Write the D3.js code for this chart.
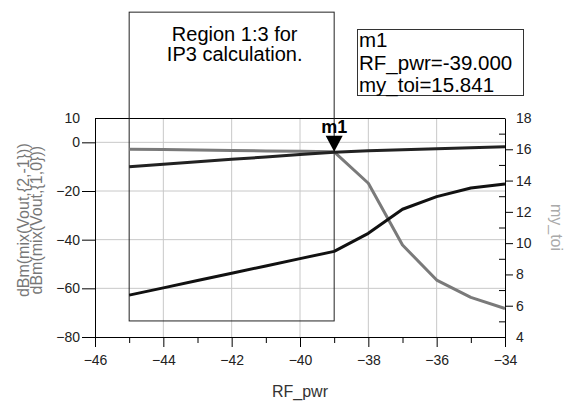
<!DOCTYPE html>
<html>
<head>
<meta charset="utf-8">
<script src="https://cdn.jsdelivr.net/npm/d3@7"></script>
<style>
  body { margin: 0; background: #fff; }
  svg { display: block; font-family: "Liberation Sans", Arial, sans-serif; }
</style>
</head>
<body>
<svg id="chart" width="566" height="401"></svg>
<script>
// data
const rfPwr = [-45, -44, -43, -42, -41, -40, -39, -38, -37, -36, -35, -34];
const fund = [-10, -9, -8, -7, -6, -5, -4.1, -3.5, -3.0, -2.6, -2.2, -1.8];   // dBm(mix(Vout,{1,0}))
const im3 = [-62.8, -59.8, -56.8, -53.8, -50.8, -47.8, -44.8, -37.4, -27.5, -22.3, -18.8, -17.1]; // dBm(mix(Vout,{2,-1}))
const myToi = [16.0, 15.98, 15.95, 15.92, 15.89, 15.87, 15.841, 13.83, 9.88, 7.64, 6.53, 5.82];

const xTicks = [-46, -44, -42, -40, -38, -36, -34];
const xMinor = [-45, -43, -41, -39, -37, -35];
const leftTicks = [10, 0, -20, -40, -60, -80];
const rightTicks = [18, 16, 14, 12, 10, 8, 6, 4];
const rightMinor = [17, 15, 13, 11, 9, 7, 5];

const marker = {name: 'm1', x: -39, y: 15.841};
const regionX = [-45, -39];
const regionY = [53.5, -73.4];   // in left-axis units
const regionText = ['Region 1:3 for', 'IP3 calculation.'];

const svg = d3.select('#chart'),
    plot = {left: 95, right: 505, top: 118, bottom: 337};

const x = d3.scaleLinear().domain([-46, -34]).range([plot.left, plot.right]);
const yL = d3.scaleLinear().domain([-80, 10]).range([plot.bottom, plot.top]);
const yR = d3.scaleLinear().domain([4, 18]).range([plot.bottom, plot.top]);

svg.append('rect').attr('width', 566).attr('height', 401).attr('fill', '#fff');

// grid
const grid = svg.append('g').attr('stroke', '#c8c8c8').attr('stroke-width', 1);
grid.selectAll('.vg').data(xTicks.slice(1, -1)).join('line')
  .attr('x1', d => x(d)).attr('x2', d => x(d))
  .attr('y1', plot.top).attr('y2', plot.bottom);
grid.selectAll('.hg').data([0, -20, -40, -60]).join('line')
  .attr('x1', plot.left).attr('x2', plot.right)
  .attr('y1', d => yL(d)).attr('y2', d => yL(d));

// frame top
svg.append('line').attr('x1', plot.left).attr('x2', plot.right)
  .attr('y1', plot.top + 0.5).attr('y2', plot.top + 0.5).attr('stroke', '#000');

// axes
const styleAxis = g => {
  g.selectAll('text').attr('fill', '#222').style('font-size', '14px')
    .style('font-family', '"Liberation Sans", Arial, sans-serif');
  g.selectAll('line, path').attr('stroke', '#000');
};

svg.append('g')
  .attr('transform', `translate(0,${plot.bottom})`)
  .call(d3.axisBottom(x).tickValues(xTicks).tickSize(10).tickSizeOuter(0).tickPadding(8).tickFormat(d3.format('d')))
  .call(styleAxis);
svg.append('g')
  .attr('transform', `translate(0,${plot.bottom})`)
  .call(d3.axisBottom(x).tickValues(xMinor).tickSize(6).tickFormat(''))
  .call(g => g.select('.domain').remove())
  .call(styleAxis);

svg.append('g')
  .attr('transform', `translate(${plot.left},0)`)
  .call(d3.axisLeft(yL).tickValues(leftTicks).tickSize(13).tickSizeOuter(0).tickPadding(2).tickFormat(d3.format('d')))
  .call(styleAxis)
  .call(g => g.selectAll('.tick').filter(d => d === 10).select('line').remove());

svg.append('g')
  .attr('transform', `translate(${plot.right},0)`)
  .call(d3.axisRight(yR).tickValues(rightTicks).tickSize(8).tickSizeOuter(0).tickPadding(3).tickFormat(d3.format('d')))
  .call(styleAxis)
  .call(g => g.selectAll('.tick').filter(d => d === 18 || d === 4).select('line').remove());
svg.append('g')
  .attr('transform', `translate(${plot.right},0)`)
  .call(d3.axisLeft(yR).tickValues(rightMinor).tickSize(6).tickFormat(''))
  .call(g => g.select('.domain').remove())
  .call(styleAxis);

// axis titles
svg.append('text').attr('x', x(-40)).attr('y', 397).attr('text-anchor', 'middle')
  .attr('fill', '#333').style('font-size', '16px').text('RF_pwr');

const leftLabels = ['dBm(mix(Vout,{2,-1}))', 'dBm(mix(Vout,{1,0}))'];
svg.selectAll('.ylab').data(leftLabels).join('text')
  .attr('transform', (d, i) => `translate(${29 + i * 13},${yL(-32)}) rotate(-90)`)
  .attr('text-anchor', 'middle').attr('fill', '#777').style('font-size', '16px')
  .text(d => d);

svg.append('text')
  .attr('transform', `translate(${551},${yR(11)}) rotate(90)`)
  .attr('text-anchor', 'middle').attr('fill', '#aaa').style('font-size', '16px')
  .text('my_toi');

// region box
svg.append('rect')
  .attr('x', x(regionX[0])).attr('y', yL(regionY[0]))
  .attr('width', x(regionX[1]) - x(regionX[0]))
  .attr('height', yL(regionY[1]) - yL(regionY[0]))
  .attr('fill', 'none').attr('stroke', '#222').attr('stroke-width', 1);
svg.selectAll('.rt').data(regionText).join('text')
  .attr('x', (x(regionX[0]) + x(regionX[1])) / 2 + 3)
  .attr('y', (d, i) => 41 + i * 20)
  .attr('text-anchor', 'middle').attr('fill', '#000').style('font-size', '20px')
  .text(d => d);

// series
const line = yScale => d3.line().x((d, i) => x(rfPwr[i])).y(d => yScale(d));
svg.append('path').datum(myToi).attr('fill', 'none').attr('stroke', '#7a7a7a')
  .attr('stroke-width', 3).attr('stroke-linejoin', 'round').attr('d', line(yR));
svg.append('path').datum(fund).attr('fill', 'none').attr('stroke', '#222')
  .attr('stroke-width', 3).attr('stroke-linejoin', 'round').attr('d', line(yL));
svg.append('path').datum(im3).attr('fill', 'none').attr('stroke', '#111')
  .attr('stroke-width', 3).attr('stroke-linejoin', 'round').attr('d', line(yL));

// marker
const mx = x(marker.x), my = yR(marker.y);
svg.append('path')
  .attr('d', `M${mx},${my} l-8.5,-16 h17 z`).attr('fill', '#000');
svg.append('text').attr('x', mx).attr('y', my - 19).attr('text-anchor', 'middle')
  .attr('fill', '#000').style('font-size', '18px').style('font-weight', 'bold').text(marker.name);

// marker readout
const readout = [marker.name, `RF_pwr=${marker.x.toFixed(3)}`, `my_toi=${marker.y.toFixed(3)}`];
svg.append('rect').attr('x', 357.5).attr('y', 29.5).attr('width', 166).attr('height', 66)
  .attr('fill', '#fff').attr('stroke', '#333');
svg.selectAll('.ro').data(readout).join('text')
  .attr('x', 359).attr('y', (d, i) => 47 + i * 22.5)
  .attr('fill', '#000').style('font-size', '20.5px')
  .text(d => d);
</script>
</body>
</html>
